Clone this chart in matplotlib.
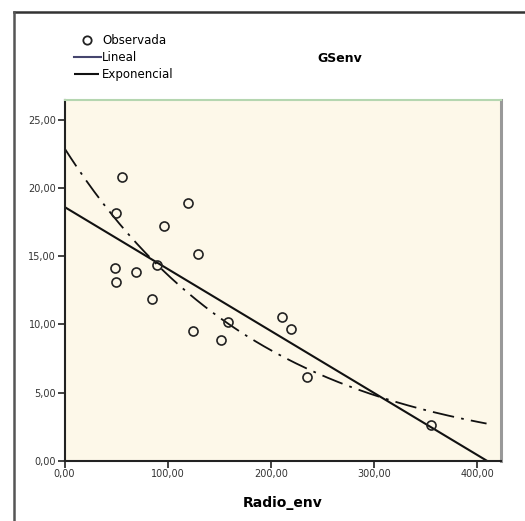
import numpy as np
import matplotlib
matplotlib.use("Agg")
import matplotlib.pyplot as plt
from matplotlib.lines import Line2D

radio_env = [56.0, 49.6, 96.1, 119.7, 129.0, 49.2, 49.6, 69.0, 90.0, 85.1,
             124.5, 158.4, 151.6, 210.8, 219.2, 235.0, 354.8]
gsenv = [20.77, 18.13, 17.2, 18.89, 15.13, 14.13, 13.08, 13.86, 14.35, 11.86,
         9.52, 10.2, 8.86, 10.56, 9.69, 6.15, 2.64]

# fitted models as drawn (intercept, slope / rate)
lineal_b0, lineal_b1 = 18.6, -0.0454
expo_b0, expo_b1 = 22.9, -0.00519
fit_range = [0, 409]

xticks = [0, 100, 200, 300, 400]
xtick_labels = ["0,00", "100,00", "200,00", "300,00", "400,00"]
yticks = [0, 5, 10, 15, 20, 25]
ytick_labels = ["0,00", "5,00", "10,00", "15,00", "20,00", "25,00"]

W, H = 525, 521
fig = plt.figure(figsize=(W / 100, H / 100), dpi=100)
fig.patch.set_facecolor("white")

left, right, top, bottom = 64.5, 501, 100, 461
ax = fig.add_axes([left / W, 1 - bottom / H, (right - left) / W, (bottom - top) / H])
ax.set_facecolor("#fdf8e9")

xs = np.linspace(fit_range[0], fit_range[1], 200)
ax.plot(xs, lineal_b0 + lineal_b1 * xs, color="#111111", lw=1.5, zorder=2)
ax.plot(xs, expo_b0 * np.exp(expo_b1 * xs), color="#111111", lw=1.3,
        linestyle=(0, (12, 4, 1.5, 4)), zorder=2)
ax.plot(radio_env, gsenv, linestyle="none", marker="o", markersize=6.5,
        markerfacecolor="none", markeredgecolor="#222222", markeredgewidth=1.2, zorder=3)

ax.set_xlim(0, 423)
ax.set_ylim(0, 26.43)
ax.set_xticks(xticks)
ax.set_xticklabels(xtick_labels)
ax.set_yticks(yticks)
ax.set_yticklabels(ytick_labels)
ax.tick_params(axis="both", labelsize=7, colors="#222222", length=5, width=1.2, pad=1)
for lab in ax.get_xticklabels() + ax.get_yticklabels():
    lab.set_color("#333333")

ax.spines["left"].set_color("#222222")
ax.spines["bottom"].set_color("#222222")
ax.spines["left"].set_linewidth(1.5)
ax.spines["bottom"].set_linewidth(1.5)
ax.spines["top"].set_color("#b5d6b0")
ax.spines["top"].set_linewidth(1.5)
ax.spines["right"].set_color("#999999")
ax.spines["right"].set_linewidth(2.2)

ax.set_xlabel("Radio_env", fontsize=10, fontweight="bold", labelpad=12)
fig.text(340 / W, 1 - 58 / H, "GSenv", fontsize=9, fontweight="bold",
         ha="center", va="center")

# outer frame
fig.add_artist(Line2D([14 / W, 1], [1 - 12 / H, 1 - 12 / H], color="#333333", lw=1.8))
fig.add_artist(Line2D([14 / W, 14 / W], [0, 1 - 12 / H], color="#555555", lw=1.8))

# legend
handles = [
    Line2D([], [], linestyle="none", marker="o", markersize=6, markerfacecolor="none",
           markeredgecolor="#222222", markeredgewidth=1.3),
    Line2D([], [], color="#45456e", lw=1.5),
    Line2D([], [], color="#111111", lw=1.5, linestyle=(0, (12, 2, 1, 2))),
]
fig.legend(handles, ["Observada", "Lineal", "Exponencial"], loc="upper left",
           bbox_to_anchor=(68 / W, 1 - 28 / H), frameon=False, fontsize=8.5,
           handlelength=2.3, handletextpad=0.1, labelspacing=0.35, borderpad=0)

fig.savefig("out.png", dpi=100)
